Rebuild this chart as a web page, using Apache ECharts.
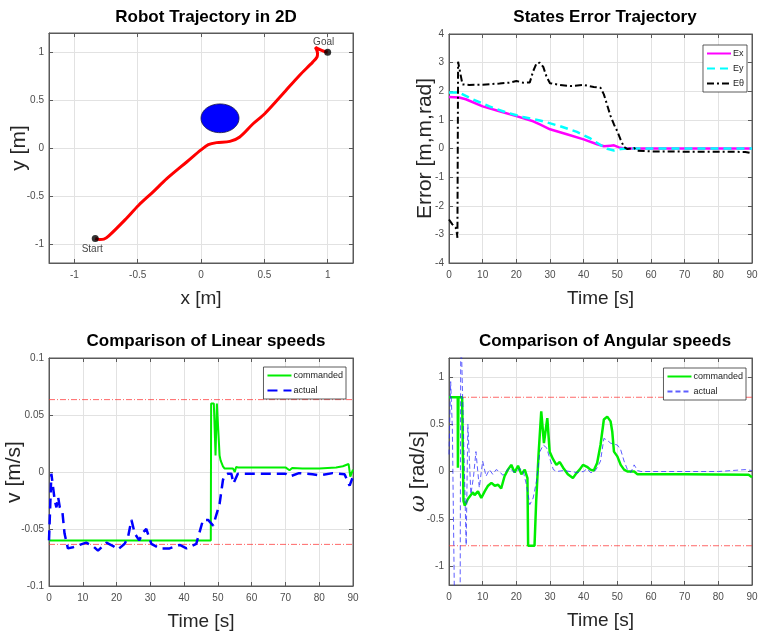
<!DOCTYPE html>
<html>
<head>
<meta charset="utf-8">
<script src="https://cdn.jsdelivr.net/npm/echarts@6/dist/echarts.min.js"></script>
<style>
html, body { margin: 0; padding: 0; background: #fff; }
#main { width: 758px; height: 642px; }
</style>
</head>
<body>
<div id="main"></div>
<script>
// ---- panel 1 : robot path in the plane
var trajX = [-0.835, -0.80, -0.767, -0.728, -0.60, -0.492, -0.38, -0.27, -0.113, 0.0, 0.058, 0.123, 0.228, 0.306, 0.411, 0.503, 0.647, 0.777, 0.882, 0.916, 0.92, 0.903, 0.935, 0.97, 1.0];
var trajY = [-0.944, -0.955, -0.951, -0.917, -0.75, -0.597, -0.46, -0.32, -0.146, -0.02, 0.035, 0.056, 0.069, 0.115, 0.253, 0.358, 0.566, 0.757, 0.896, 0.95, 0.99, 1.05, 1.028, 1.01, 1.0];
var startPt = [-0.835, -0.944];
var goalPt = [1.0, 1.0];
var obstacle = [0.15, 0.31, 0.15]; // centre x, centre y, radius
var posTicks = [-1, -0.5, 0, 0.5, 1];

// ---- panel 2 : state errors
var exT = [0, 3, 5, 10, 15, 20, 25, 27, 30, 35, 40, 44, 46, 48, 49, 50.5, 52, 90];
var exV = [1.8, 1.78, 1.72, 1.47, 1.3, 1.13, 0.95, 0.84, 0.67, 0.5, 0.32, 0.15, 0.08, 0.1, 0.11, 0.04, 0.0, 0.0];
var eyT = [0, 3, 7, 12, 17, 22, 27, 33, 38, 42, 45, 47, 49, 51, 53, 90];
var eyV = [1.96, 1.95, 1.72, 1.47, 1.26, 1.1, 0.98, 0.78, 0.58, 0.35, 0.12, -0.01, -0.07, -0.02, 0.0, 0.0];
var ethT = [0, 1, 2, 2.4, 2.5, 2.7, 4, 6, 10, 15, 18, 20, 22, 24, 25, 26, 27, 28, 29, 30, 33, 36, 40, 43, 45, 46, 48, 49, 50, 51, 52, 53, 54, 55, 56, 60, 70, 80, 88, 90];
var ethV = [-2.48, -2.65, -2.77, -3.0, -3.12, 3.03, 2.24, 2.22, 2.23, 2.27, 2.3, 2.36, 2.3, 2.31, 2.7, 2.98, 3.0, 2.85, 2.5, 2.28, 2.22, 2.18, 2.22, 2.15, 2.12, 1.89, 1.13, 0.84, 0.6, 0.3, 0.05, -0.02, 0.0, 0.02, -0.08, -0.1, -0.11, -0.11, -0.12, -0.17];
var errTicks = [-4, -3, -2, -1, 0, 1, 2, 3, 4];

// ---- panel 3 : linear speed
var cmdLinT = [0, 47.9, 48.0, 48.8, 49.3, 49.7, 50.1, 50.5, 50.8, 51.5, 52, 54.5, 55, 55.4, 56, 60, 70, 71.2, 72, 72.5, 75, 80, 85, 87, 88.7, 89.2, 90];
var cmdLinV = [-0.06, -0.06, 0.06, 0.06, 0.0146, 0.06, 0.06, 0.0146, 0.0102, 0.005, 0.003, 0.003, 0.0, 0.0044, 0.004, 0.004, 0.004, 0.0015, 0.0035, 0.003, 0.003, 0.003, 0.004, 0.005, 0.007, -0.004, 0.002];
var actLinT = [0, 0.7, 1.2, 1.7, 2.2, 2.7, 3.2, 4, 4.6, 5.6, 7.1, 9, 11, 13, 14.5, 17, 19, 20.4, 22.4, 23.4, 24.4, 25.4, 26.7, 27.8, 28.8, 30.3, 32.8, 35.7, 38.7, 40.7, 43.6, 45.6, 47.1, 48.6, 50.5, 51.5, 52, 53, 54, 54.6, 55.9, 60, 65, 70, 71.2, 74, 78, 80, 84, 87.5, 89, 90];
var actLinV = [-0.06, -0.0015, 0.0, -0.025, -0.031, -0.022, -0.031, -0.036, -0.054, -0.067, -0.066, -0.064, -0.062, -0.065, -0.069, -0.062, -0.065, -0.068, -0.063, -0.057, -0.042, -0.054, -0.06, -0.053, -0.05, -0.063, -0.067, -0.067, -0.064, -0.067, -0.063, -0.042, -0.042, -0.047, -0.028, -0.007, -0.003, -0.0015, -0.0015, -0.01, -0.0015, -0.0015, -0.0015, -0.0015, -0.004, -0.001, -0.002, -0.003, -0.001, -0.002, -0.012, -0.004];
var linLimits = [0.0635, -0.0635];
var linTicks = [-0.1, -0.05, 0, 0.05, 0.1];

// ---- panel 4 : angular speed
var cmdAngT = [0, 2.6, 2.65, 2.75, 2.8, 3.9, 4.3, 4.7, 5.1, 5.6, 6.1, 7.1, 7.6, 8.6, 9.6, 10.6, 11.6, 12.6, 13.6, 14.6, 15.5, 16.5, 17.5, 18.5, 19.5, 20.5, 21.5, 22.5, 23.3, 23.5, 25.4, 25.9, 26.6, 27.4, 28.2, 29.2, 29.9, 30.9, 31.9, 32.9, 33.9, 35.3, 36.8, 37.8, 38.8, 39.8, 41, 42, 43, 44, 45, 46, 47, 48, 48.5, 49, 49.5, 50, 51, 52, 53, 55, 56, 70, 89, 90];
var cmdAngV = [0.785, 0.785, 0.04, 0.04, 0.785, 0.785, -0.31, -0.36, -0.35, -0.29, -0.31, -0.22, -0.25, -0.21, -0.28, -0.21, -0.15, -0.12, -0.15, -0.14, -0.18, -0.05, 0.02, 0.07, -0.01, 0.06, -0.03, 0.02, -0.07, -0.785, -0.785, -0.31, 0.18, 0.635, 0.3, 0.565, 0.21, 0.13, 0.07, 0.1, 0.04, -0.03, -0.07, -0.02, 0.02, 0.07, 0.05, 0.02, 0.01, 0.09, 0.28, 0.55, 0.58, 0.53, 0.42, 0.21, 0.2, 0.16, 0.07, 0.02, 0.0, 0.0, -0.03, -0.03, -0.035, -0.06];
var actAngT = [0, 0.5, 1.0, 1.7, 2.5, 3.3, 3.5, 3.8, 5.1, 5.6, 6.5, 7.3, 8.0, 9.0, 10, 11, 12, 13, 14, 15, 16, 17, 18, 19, 20, 21, 22, 23, 24, 25, 26, 27, 28, 29, 30, 31, 32, 34, 36, 38, 40, 41, 42, 43, 44, 45, 46, 47, 48, 49, 50, 51, 52, 53, 54, 55, 56, 57, 60, 70, 80, 88, 90];
var actAngV = [0.18, 0.95, 0.45, -1.6, -1.6, -1.6, 1.6, 1.6, -0.78, 0.5, -0.24, -0.05, 0.21, -0.17, 0.11, -0.05, 0.02, -0.03, 0.02, 0.0, -0.04, 0.0, 0.04, 0.0, -0.01, 0.03, 0.01, -0.14, -0.35, -0.28, -0.1, 0.21, 0.28, 0.25, 0.13, 0.02, 0.0, 0.01, 0.0, -0.01, 0.0, 0.03, -0.01, -0.01, 0.04, 0.11, 0.35, 0.33, 0.3, 0.29, 0.28, 0.23, 0.11, 0.02, -0.01, 0.07, 0.01, 0.0, 0.0, 0.0, 0.0, 0.02, 0.01];
var angLimits = [0.785, -0.785];
var angTicks = [-1, -0.5, 0, 0.5, 1];

var timeTicks = [0, 10, 20, 30, 40, 50, 60, 70, 80, 90];

var FONT = "'Liberation Sans', Arial, sans-serif";
var BOX = '#5a5a5a';

function pairs(a, b) {
    var out = [];
    for (var i = 0; i < a.length; i++) out.push([a[i], b[i]]);
    return out;
}

// main axis + mirrored axis (MATLAB box with ticks on all four sides)
function axisPair(dim, g, min, max, ticks, name, nameGap) {
    var horiz = dim === 'x';
    var main = {
        type: 'value', gridIndex: g, min: min, max: max,
        position: horiz ? 'bottom' : 'left',
        axisLine: { show: true, onZero: false, lineStyle: { color: BOX, width: 1 } },
        axisTick: { show: true, inside: true, length: 4, customValues: ticks, lineStyle: { color: BOX } },
        axisLabel: { customValues: ticks, color: '#4d4d4d', fontSize: 10, fontFamily: FONT, margin: horiz ? 7 : 5 },
        splitLine: { show: true, lineStyle: { color: '#e2e2e2', width: 1 } },
        name: name, nameLocation: 'middle', nameGap: nameGap,
        nameTextStyle: {
            fontSize: horiz ? 19 : 21, color: '#262626', fontFamily: FONT,
            rich: { i: { fontSize: 21, fontStyle: 'italic', fontFamily: 'DejaVu Serif', color: '#262626' } }
        }
    };
    if (!horiz) main.nameMoveOverlap = false;
    var mirror = {
        type: 'value', gridIndex: g, min: min, max: max,
        position: horiz ? 'top' : 'right',
        axisLine: { show: true, onZero: false, lineStyle: { color: BOX, width: 1 } },
        axisTick: { show: true, inside: true, length: 4, customValues: ticks, lineStyle: { color: BOX } },
        axisLabel: { show: false },
        splitLine: { show: false }
    };
    return [main, mirror];
}

// horizontal saturation limits, drawn across the whole time range
function limitSeries(vals, axisIdx) {
    return vals.map(function (v) {
        return {
            type: 'line', xAxisIndex: axisIdx, yAxisIndex: axisIdx, silent: true, symbol: 'none', z: 1,
            data: [[timeTicks[0], v], [timeTicks[timeTicks.length - 1], v]],
            lineStyle: { color: 'rgba(255,40,40,0.7)', width: 1, type: [6, 2, 1, 2] }
        };
    });
}

function legendBox(names, top, right) {
    return {
        data: names, orient: 'vertical', top: top, right: right,
        itemWidth: 24, itemHeight: 8, itemGap: 6,
        padding: [4, 3, 4, 3],
        backgroundColor: '#fff', borderColor: '#333', borderWidth: 0.8, borderRadius: 0,
        itemStyle: { opacity: 0 },
        textStyle: { fontSize: 9, fontFamily: FONT, color: '#222', padding: [0, 0, 0, -3] },
        formatter: function (n) { return n.replace(/ $/, ''); }
    };
}

function gridBox(left, top, width, height) {
    return {
        left: left, top: top, width: width, height: height, outerBoundsMode: 'none',
        show: true, borderColor: BOX, borderWidth: 1, backgroundColor: '#fff'
    };
}

var myChart = echarts.init(document.getElementById('main'));

var xAxes = [].concat(
    axisPair('x', 0, -1.2, 1.2, posTicks, 'x [m]', 26),
    axisPair('x', 1, 0, 90, timeTicks, 'Time [s]', 26),
    axisPair('x', 2, 0, 90, timeTicks, 'Time [s]', 26),
    axisPair('x', 3, 0, 90, timeTicks, 'Time [s]', 26)
);
var yAxes = [].concat(
    axisPair('y', 0, -1.2, 1.2, posTicks, 'y [m]', 19),
    axisPair('y', 1, -4, 4, errTicks, 'Error [m,m,rad]', 13),
    axisPair('y', 2, -0.1, 0.1, linTicks, 'v [m/s]', 24),
    axisPair('y', 3, -1.2, 1.2, angTicks, '{i|ω} [rad/s]', 20)
);

var titleStyle = { fontSize: 17, fontWeight: 'bold', color: '#000', fontFamily: FONT };

var option = {
    animation: false,
    backgroundColor: '#fff',
    title: [
        { text: 'Robot Trajectory in 2D', left: 201, top: 4, textAlign: 'center', textStyle: titleStyle },
        { text: 'States Error Trajectory', left: 600, top: 4, textAlign: 'center', textStyle: titleStyle },
        { text: 'Comparison of Linear speeds', left: 201, top: 328, textAlign: 'center', textStyle: titleStyle },
        { text: 'Comparison of Angular speeds', left: 600, top: 328, textAlign: 'center', textStyle: titleStyle }
    ],
    grid: [
        gridBox(49, 33, 304, 230),
        gridBox(449, 34, 303, 229),
        gridBox(49, 358, 304, 228),
        gridBox(449, 358, 303, 227)
    ],
    xAxis: xAxes,
    yAxis: yAxes,
    legend: [
        legendBox(['Ex', 'Ey', 'Eθ'], 45, 11),
        legendBox(['commanded', 'actual'], 367, 412),
        legendBox(['commanded ', 'actual '], 368, 12)
    ],
    series: [
        // panel 1
        {
            type: 'custom', xAxisIndex: 0, yAxisIndex: 0, data: [obstacle],
            encode: { x: 0, y: 1 },
            renderItem: function (params, api) {
                var cx = api.value(0), cy = api.value(1), r = api.value(2);
                var pts = [];
                for (var i = 0; i < 72; i++) {
                    var a = i / 72 * Math.PI * 2;
                    pts.push(api.coord([cx + r * Math.cos(a), cy + r * Math.sin(a)]));
                }
                return { type: 'polygon', shape: { points: pts }, style: { fill: '#0000ff', stroke: '#1a1a40', lineWidth: 0.8 } };
            }
        },
        {
            name: 'path', type: 'line', xAxisIndex: 0, yAxisIndex: 0,
            data: pairs(trajX, trajY), symbol: 'none', smooth: 0.3,
            lineStyle: { color: '#ff0000', width: 3 }, itemStyle: { color: '#ff0000' }
        },
        {
            name: 'points', type: 'scatter', xAxisIndex: 0, yAxisIndex: 0, symbolSize: 7, z: 5,
            itemStyle: { color: '#000' },
            label: { show: true, color: '#111', fontSize: 10, fontFamily: FONT },
            data: [
                { value: startPt, label: { formatter: 'Start', position: 'bottom', distance: 2, offset: [-3, 0] } },
                { value: goalPt, label: { formatter: 'Goal', position: 'top', distance: 1, offset: [-4, 0] } }
            ]
        },
        // panel 2
        {
            name: 'Ex', type: 'line', xAxisIndex: 2, yAxisIndex: 2, data: pairs(exT, exV), symbol: 'none',
            lineStyle: { color: '#ff00ff', width: 2.5 }, itemStyle: { color: '#ff00ff' }
        },
        {
            name: 'Ey', type: 'line', xAxisIndex: 2, yAxisIndex: 2, data: pairs(eyT, eyV), symbol: 'none',
            lineStyle: { color: '#00ffff', width: 2.5, type: [8, 5] }, itemStyle: { color: '#00ffff' }
        },
        {
            name: 'Eθ', type: 'line', xAxisIndex: 2, yAxisIndex: 2, data: pairs(ethT, ethV), symbol: 'none',
            lineStyle: { color: '#000', width: 2, type: [7, 3, 2, 3] }, itemStyle: { color: '#000' }
        }
    ].concat(
        limitSeries(linLimits, 4),
        [
            {
                name: 'commanded', type: 'line', xAxisIndex: 4, yAxisIndex: 4, data: pairs(cmdLinT, cmdLinV), symbol: 'none',
                lineStyle: { color: '#00ee00', width: 2 }, itemStyle: { color: '#00ee00' }
            },
            {
                name: 'actual', type: 'line', xAxisIndex: 4, yAxisIndex: 4, data: pairs(actLinT, actLinV), symbol: 'none',
                lineStyle: { color: '#0000ff', width: 2.5, type: [10, 6] }, itemStyle: { color: '#0000ff' }
            }
        ],
        limitSeries(angLimits, 6),
        [
            {
                name: 'commanded ', type: 'line', xAxisIndex: 6, yAxisIndex: 6, data: pairs(cmdAngT, cmdAngV), symbol: 'none',
                lineStyle: { color: '#00ee00', width: 2.5 }, itemStyle: { color: '#00ee00' }
            },
            {
                name: 'actual ', type: 'line', xAxisIndex: 6, yAxisIndex: 6, data: pairs(actAngT, actAngV), symbol: 'none',
                lineStyle: { color: 'rgba(40,40,255,0.75)', width: 1, type: [5, 3] }, itemStyle: { color: 'rgba(40,40,255,0.75)' }
            }
        ]
    )
};

myChart.setOption(option);
window.addEventListener('resize', function () {
    myChart.resize();
});
</script>
</body>
</html>
